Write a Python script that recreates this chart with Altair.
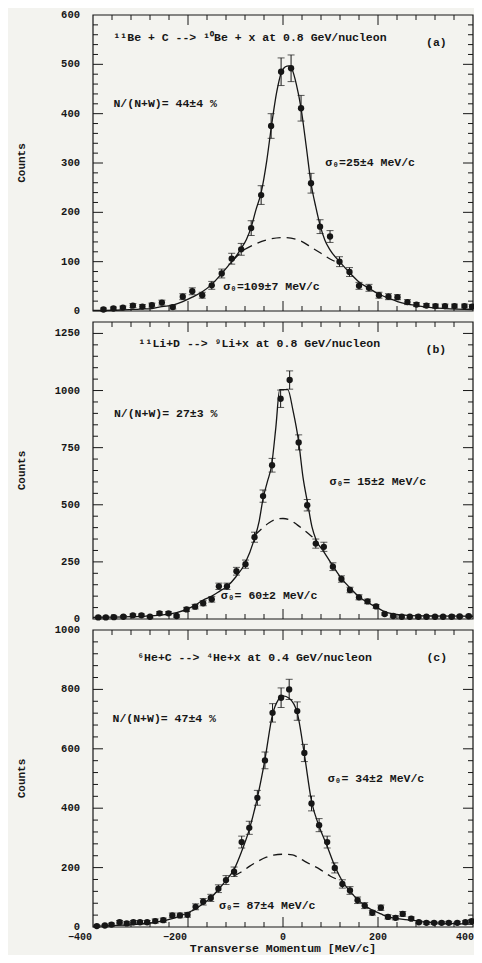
import altair as alt
import pandas as pd

# ---------------- data ----------------
# Panel (a) 11Be + C
A_X = [-378,-357,-337,-316,-296,-276,-255,-232,-211,-191,-170,-150,-129,-108,-88,-67,-46,-25,-4,17,
       38,59,78,99,119,140,160,181,202,222,241,262,281,302,321,341,361,382,398]
A_COUNTS = [3,5,7,11,9,12,17,8,29,40,32,52,76,106,125,168,235,375,485,492,
            411,259,171,151,100,79,51,47,32,29,28,18,13,11,10,10,10,10,9]
A_ERR = [3,3,3,4,4,4,5,4,6,7,6,8,9,11,12,15,19,25,28,27,
         26,20,14,12,10,9,7,7,6,6,5,5,4,4,4,4,4,4,4]
A_FIT_X = [-400,-340,-300,-276,-255,-232,-211,-191,-170,-150,-129,-108,-98,-88,-77,-67,-57,-46,-34,-25,
           -13,-4,5,12,19,28,38,49,59,69,78,88,99,119,140,160,181,202,222,241,262,281,302,341,400]
A_FIT_Y = [1,2,4,5,9,12,19,28,39,54,76,100,112,127,145,170,205,240,306,370,
           445,482,495,497,490,460,411,333,259,211,174,144,124,100,78,59,46,34,26,19,14,11,8,5,3]
A_WIDE_X = [-105,-80,-60,-35,0,35,63,80,100,115]
A_WIDE_Y = [103,125,135,144,149,143,127,117,105,98]
A_NOTES = ["¹¹Be + C --> ¹⁰Be + x at 0.8 GeV/nucleon", "(a)", "N/(N+W)= 44±4 %",
           "σ₀=25±4 MeV/c", "σ₀=109±7 MeV/c"]
A_NOTE_X = [-357, 301, -357, 89, -126]
A_NOTE_Y = [553, 543, 420, 300, 49]

# Panel (b) 11Li + D
B_X = [-389,-373,-356,-336,-316,-298,-280,-260,-241,-224,-203,-185,-168,-150,-135,-118,-98,-79,-60,-42,
       -23,-5,14,33,51,69,86,105,123,141,160,178,196,214,232,250,267,285,302,320,337,355,372,391]
B_COUNTS = [7,7,8,10,16,16,10,25,25,13,42,54,69,86,143,143,209,240,358,538,
            673,964,1046,773,498,330,316,229,175,127,95,77,55,22,13,10,10,10,10,10,10,10,11,12]
B_ERR = [5,5,5,5,6,6,5,7,7,5,9,10,11,12,14,14,17,18,22,27,
         30,38,40,33,25,20,20,17,14,12,11,10,8,5,5,5,5,5,5,5,5,5,5,5]
B_FIT_X = [-400,-320,-260,-224,-203,-185,-168,-150,-133,-117,-99,-80,-61,-50,-42,-33,-24,-15,-7,10,
           21,33,42,52,61,70,86,105,123,142,160,179,197,214,232,267,320,400]
B_FIT_Y = [7,10,17,28,42,61,83,100,122,144,185,243,345,430,527,600,673,840,1004,1004,
           913,775,622,505,403,345,294,232,178,134,97,71,51,32,22,15,13,12]
B_WIDE_X = [-59,-45,-30,-15,0,15,30,45,60,70]
B_WIDE_Y = [367,395,420,436,440,433,412,388,362,345]
B_NOTES = ["¹¹Li+D --> ⁹Li+x  at 0.8 GeV/nucleon", "(b)", "N/(N+W)= 27±3 %",
           "σ₀= 15±2 MeV/c", "σ₀= 60±2 MeV/c"]
B_NOTE_X = [-304, 300, -356, 98, -131]
B_NOTE_Y = [1205, 1176, 899, 600, 100]

# Panel (c) 6He + C
C_X = [-392,-375,-361,-344,-329,-315,-301,-286,-269,-252,-233,-217,-201,-184,-168,-152,-136,-120,-103,-87,
       -71,-54,-38,-22,-4,13,30,45,60,76,93,109,125,141,157,172,188,206,221,237,
       252,270,286,302,318,334,349,367,384,397]
C_COUNTS = [3,5,8,16,12,16,16,16,20,23,39,39,41,68,85,98,129,158,186,286,
            334,435,561,721,772,800,727,586,416,343,286,199,145,123,90,72,48,65,34,31,
            44,28,16,14,14,14,14,14,16,20]
C_ERR = [4,4,5,6,6,6,6,6,7,7,8,8,8,10,11,12,13,15,16,20,
         22,25,28,31,33,34,31,29,25,22,20,17,14,13,11,10,8,9,7,7,
         8,6,5,5,5,5,5,5,5,5]
C_FIT_X = [-400,-315,-269,-233,-201,-184,-168,-152,-136,-120,-103,-87,-71,-54,-38,-22,-10,0,13,30,
           45,60,76,93,109,125,141,157,172,188,206,221,237,270,302,350,400]
C_FIT_Y = [3,8,16,28,48,61,79,98,126,157,194,255,328,435,564,716,765,778,770,721,
           581,424,339,272,205,154,120,93,72,57,44,34,29,23,16,12,9]
C_WIDE_X = [-104,-88,-70,-52,-35,-20,0,20,33,45,59,77,100,118]
C_WIDE_Y = [171,185,205,222,235,242,245,243,233,222,210,195,171,158]
C_NOTES = ["⁶He+C --> ⁴He+x at 0.4 GeV/nucleon", "(c)", "N/(N+W)= 47±4 %",
           "σ₀= 34±2 MeV/c", "σ₀= 87±4 MeV/c"]
C_NOTE_X = [-307, 302, -359, 94, -135]
C_NOTE_Y = [906, 906, 701, 499, 70]

# Axis ticks and labels
X_LABELS = [-400, -200, 0, 200, 400]
X_MAJOR = [-200, 0, 200]
X_MINOR = [-360,-320,-280,-240,-160,-120,-80,-40,40,80,120,160,240,280,320,360]
A_Y_LABELS = [0,100,200,300,400,500,600]
A_Y_MAJOR = [100,200,300,400,500]
A_Y_MINOR = [20,40,60,80,120,140,160,180,220,240,260,280,320,340,360,380,420,440,460,480,520,540,560,580]
B_Y_LABELS = [0,250,500,750,1000,1250]
B_Y_MAJOR = [250,500,750,1000,1250]
B_Y_MINOR = [50,100,150,200,300,350,400,450,550,600,650,700,800,850,900,950,1050,1100,1150,1200]
C_Y_LABELS = [0,200,400,600,800,1000]
C_Y_MAJOR = [200,400,600,800]
C_Y_MINOR = [40,80,120,160,240,280,320,360,440,480,520,560,640,680,720,760,840,880,920,960]
X_TITLE = "Transverse Momentum [MeV/c]"
Y_TITLE = "Counts"

# ---------------- layout & style ----------------
INK = "#161616"
BG = "#f3f3ef"
FONT = "Liberation Mono"
TOTAL_W, TOTAL_H = 466, 947
XR = [85, 465]            # plot frame, left/right (pixels)
A_R = [303, 7]            # panel (a) frame bottom/top
B_R = [611, 314]          # panel (b)
C_R = [919, 622]          # panel (c)
LABEL_RIGHT = 72
TITLE_X = 14
XTITLE_X = 275

XSCALE = alt.Scale(domain=[-400, 400], range=XR, nice=False, zero=False)


def X(f):
    return alt.X(f, type="quantitative", scale=XSCALE, axis=None)


def make_panel(xs, counts, errs, fit_x, fit_y, wide_x, wide_y, notes, note_x, note_y,
               y_max, y_labels, y_major, y_minor, rng, bottom):
    bot, top = rng
    yscale = alt.Scale(domain=[0, y_max], range=[bot, top], nice=False, zero=False)

    def Y(f):
        return alt.Y(f, type="quantitative", scale=yscale, axis=None)

    pts = pd.DataFrame({"p": xs, "n": counts, "e": errs})
    base = alt.Chart(pts).transform_calculate(lo="datum.n - datum.e", hi="datum.n + datum.e")

    frame = alt.Chart(pd.DataFrame({"k": [0]})).mark_rect(
        filled=False, color=INK, strokeWidth=1.2).encode(
        x=alt.value(XR[0]), x2=alt.value(XR[1]), y=alt.value(top), y2=alt.value(bot))

    fit = alt.Chart(pd.DataFrame({"p": fit_x, "n": fit_y})).mark_line(
        color=INK, strokeWidth=1.3, interpolate="monotone").encode(x=X("p"), y=Y("n"))
    wide = alt.Chart(pd.DataFrame({"p": wide_x, "n": wide_y})).mark_line(
        color=INK, strokeWidth=1.3, strokeDash=[9, 6], interpolate="monotone").encode(x=X("p"), y=Y("n"))
    bars = base.mark_rule(color=INK, strokeWidth=1).encode(x=X("p"), y=Y("lo"), y2=alt.Y2("hi"))
    cap_hi = base.mark_tick(color=INK, orient="horizontal", size=7, thickness=1).encode(x=X("p"), y=Y("hi"))
    cap_lo = base.mark_tick(color=INK, orient="horizontal", size=7, thickness=1).encode(x=X("p"), y=Y("lo"))
    dots = base.mark_point(filled=True, shape="circle", size=40, color=INK, opacity=1).encode(
        x=X("p"), y=Y("n"))

    layers = [frame, fit, wide, bars, cap_hi, cap_lo, dots]

    def xt(vals, length):
        d = pd.DataFrame({"t": vals})
        t1 = alt.Chart(d).mark_rule(color=INK, strokeWidth=1).encode(
            x=X("t"), y=alt.value(top), y2=alt.value(top + length))
        t2 = alt.Chart(d).mark_rule(color=INK, strokeWidth=1).encode(
            x=X("t"), y=alt.value(bot), y2=alt.value(bot - length))
        return [t1, t2]

    def yt(vals, length):
        d = pd.DataFrame({"t": vals})
        t1 = alt.Chart(d).mark_rule(color=INK, strokeWidth=1).encode(
            y=Y("t"), x=alt.value(XR[0]), x2=alt.value(XR[0] + length))
        t2 = alt.Chart(d).mark_rule(color=INK, strokeWidth=1).encode(
            y=Y("t"), x=alt.value(XR[1]), x2=alt.value(XR[1] - length))
        return [t1, t2]

    layers += xt(X_MAJOR, 10) + xt(X_MINOR, 5) + yt(y_major, 10) + yt(y_minor, 5)

    # y tick labels
    ylab = alt.Chart(pd.DataFrame({"t": y_labels})).mark_text(
        align="right", baseline="middle", font=FONT, fontSize=10.5, fontWeight="bold", color=INK).encode(
        x=alt.value(LABEL_RIGHT), y=Y("t"), text=alt.Text("t:Q", format="d"))
    ytitle = alt.Chart(pd.DataFrame({"s": [Y_TITLE]})).mark_text(
        align="center", baseline="middle", angle=270, font=FONT, fontSize=11, fontWeight="bold",
        color=INK).encode(x=alt.value(TITLE_X), y=alt.value((top + bot) / 2), text="s:N")
    layers += [ylab, ytitle]

    if bottom:
        xl = alt.Chart(pd.DataFrame({"t": X_LABELS}))
        style = dict(baseline="middle", font=FONT, fontSize=10, fontWeight="bold", color=INK)
        neg = xl.transform_filter("datum.t < 0").mark_text(align="right", dx=-1, **style).encode(
            x=X("t"), y=alt.value(bot + 10), text=alt.Text("t:Q", format="d"))
        mid = xl.transform_filter("datum.t >= 0 && datum.t < 400").mark_text(align="center", **style).encode(
            x=X("t"), y=alt.value(bot + 10), text=alt.Text("t:Q", format="d"))
        last = xl.transform_filter("datum.t >= 400").mark_text(align="right", dx=1, **style).encode(
            x=X("t"), y=alt.value(bot + 10), text=alt.Text("t:Q", format="d"))
        xtitle = alt.Chart(pd.DataFrame({"s": [X_TITLE]})).mark_text(
            align="center", baseline="middle", font=FONT, fontSize=11.5, fontWeight="bold",
            color=INK).encode(x=alt.value(XTITLE_X), y=alt.value(bot + 22), text="s:N")
        layers += [neg, mid, last, xtitle]

    nd = pd.DataFrame({"s": notes, "x": note_x, "y": note_y})
    txt = alt.Chart(nd).mark_text(align="left", baseline="middle", font=FONT, fontSize=11.5,
                                  fontWeight="bold", color=INK).encode(
        x=X("x"), y=Y("y"), text="s:N")
    layers.append(txt)

    return alt.layer(*layers)


pa = make_panel(A_X, A_COUNTS, A_ERR, A_FIT_X, A_FIT_Y, A_WIDE_X, A_WIDE_Y,
                A_NOTES, A_NOTE_X, A_NOTE_Y, 600, A_Y_LABELS, A_Y_MAJOR, A_Y_MINOR, A_R, False)
pb = make_panel(B_X, B_COUNTS, B_ERR, B_FIT_X, B_FIT_Y, B_WIDE_X, B_WIDE_Y,
                B_NOTES, B_NOTE_X, B_NOTE_Y, 1300, B_Y_LABELS, B_Y_MAJOR, B_Y_MINOR, B_R, False)
pc = make_panel(C_X, C_COUNTS, C_ERR, C_FIT_X, C_FIT_Y, C_WIDE_X, C_WIDE_Y,
                C_NOTES, C_NOTE_X, C_NOTE_Y, 1000, C_Y_LABELS, C_Y_MAJOR, C_Y_MINOR, C_R, True)

chart = alt.layer(pa, pb, pc).resolve_scale(y="independent").properties(
    width=TOTAL_W, height=TOTAL_H,
    autosize=alt.AutoSizeParams(type="none"),
    padding=0,
    background=BG,
).configure_view(strokeWidth=0)

chart.save("out.html", embed_options={"renderer": "svg", "actions": False})
